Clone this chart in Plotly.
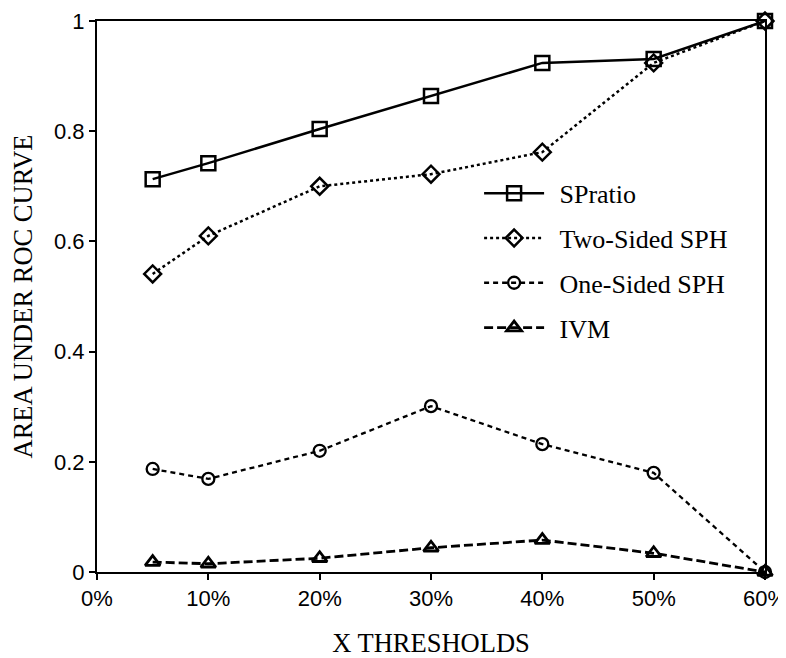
import plotly.graph_objects as go

x_vals = [5, 10, 20, 30, 40, 50, 60]
spratio = [0.713, 0.742, 0.804, 0.864, 0.924, 0.931, 1.0]
two_sided = [0.541, 0.610, 0.700, 0.722, 0.762, 0.924, 1.0]
one_sided = [0.187, 0.169, 0.220, 0.301, 0.232, 0.180, 0.0]
ivm = [0.018, 0.015, 0.025, 0.044, 0.058, 0.034, 0.0]

series_names = ["SPratio", "Two-Sided SPH", "One-Sided SPH", "IVM"]

x_ticks = [0, 10, 20, 30, 40, 50, 60]
x_ticklabels = ["0%", "10%", "20%", "30%", "40%", "50%", "60%"]
y_ticks = [0, 0.2, 0.4, 0.6, 0.8, 1]
y_ticklabels = ["0", "0.2", "0.4", "0.6", "0.8", "1"]

serif = "Liberation Serif"
tickfam = "Liberation Sans"
pad = "\u2009\u2009"

fig = go.Figure()
fig.add_trace(go.Scatter(x=x_vals, y=spratio, name=pad + series_names[0], mode="lines+markers",
                         line=dict(color="black", width=2.5, dash="solid"),
                         marker=dict(symbol="square-open", size=14, color="black", line=dict(width=2.5)),
                         legendgroup="a", cliponaxis=False))
fig.add_trace(go.Scatter(x=x_vals, y=two_sided, name=pad + series_names[1], mode="lines+markers",
                         line=dict(color="black", width=2.5, dash="dot"),
                         marker=dict(symbol="diamond-open", size=13, color="black", line=dict(width=2.5)),
                         legendgroup="b", cliponaxis=False))
fig.add_trace(go.Scatter(x=x_vals, y=one_sided, name=pad + series_names[2], mode="lines+markers",
                         line=dict(color="black", width=2.3, dash="5px,4px"),
                         marker=dict(symbol="circle-open", size=12, color="black", line=dict(width=2.3)),
                         legendgroup="c", cliponaxis=False))
fig.add_trace(go.Scatter(x=x_vals, y=ivm, name=pad + series_names[3], mode="lines+markers",
                         line=dict(color="black", width=2.8, dash="9px,4px"),
                         marker=dict(symbol="triangle-up-open", size=13, color="black", line=dict(width=2.8)),
                         legendgroup="d", cliponaxis=False))

fig.update_layout(
    width=778, height=650,
    margin=dict(l=89, r=21, t=13, b=86, autoexpand=False),
    plot_bgcolor="white", paper_bgcolor="white",
    font=dict(family=serif, size=24, color="black"),
    showlegend=True,
    legend=dict(x=0.572, y=0.73, xanchor="left", yanchor="top",
                bgcolor="rgba(0,0,0,0)", tracegroupgap=8,
                font=dict(family=serif, size=26), itemwidth=60),
    xaxis=dict(range=[0, 60], tickvals=x_ticks, ticktext=x_ticklabels,
               showline=True, linecolor="black", linewidth=2, mirror=True,
               ticks="outside", ticklen=6, tickwidth=2, tickcolor="black",
               showgrid=False, zeroline=False, automargin=False,
               ticklabeloverflow="allow",
               tickfont=dict(family=tickfam, size=22),
               title=dict(text="X THRESHOLDS", font=dict(family=serif, size=26.5), standoff=33)),
    yaxis=dict(range=[0, 1], tickvals=y_ticks, ticktext=y_ticklabels,
               showline=True, linecolor="black", linewidth=2, mirror=True,
               ticks="outside", ticklen=6, tickwidth=2, tickcolor="black",
               showgrid=False, zeroline=False, automargin=False,
               ticklabeloverflow="allow",
               tickfont=dict(family=tickfam, size=22),
               title=dict(text="AREA UNDER ROC CURVE", font=dict(family=serif, size=26.5), standoff=14)),
)

fig.write_html("out.html")
